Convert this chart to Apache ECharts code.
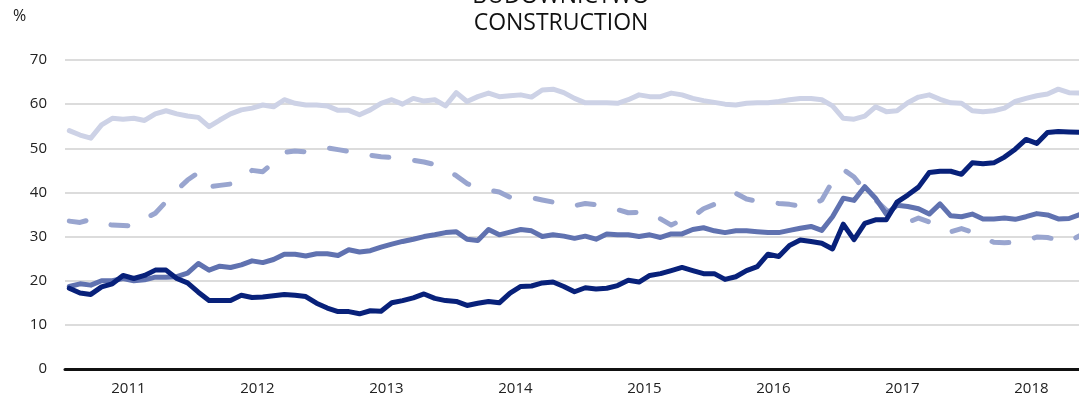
<!DOCTYPE html>
<html>
<head>
<meta charset="utf-8">
<script src="https://cdn.jsdelivr.net/npm/echarts@6/dist/echarts.min.js"></script>
<style>
html,body{margin:0;padding:0;background:#fff;}
#chart{width:1079px;height:402px;}
</style>
</head>
<body>
<div id="chart"></div>
<script>
// Monthly observations, Jan 2011 onward
var years = ['2011','2012','2013','2014','2015','2016','2017','2018'];
var yTicks = [0,10,20,30,40,50,60,70];

var seriesLight = [54.0,53.0,52.3,55.3,56.8,56.6,56.8,56.3,57.8,58.5,57.8,57.3,57.0,54.9,56.4,57.8,58.7,59.1,59.8,59.4,
61.0,60.2,59.8,59.8,59.6,58.6,58.6,57.6,58.7,60.2,61.0,60.0,61.3,60.7,61.0,59.6,62.6,60.6,61.7,62.5,
61.7,61.9,62.1,61.6,63.2,63.4,62.6,61.3,60.3,60.3,60.3,60.2,61.0,62.1,61.7,61.7,62.5,62.1,61.3,60.8,
60.4,60.0,59.8,60.2,60.3,60.3,60.6,61.0,61.3,61.3,61.0,59.6,56.8,56.6,57.3,59.4,58.3,58.5,60.3,61.6,
62.1,61.1,60.3,60.2,58.5,58.3,58.5,59.1,60.6,61.3,61.9,62.3,63.4,62.6,62.5];

var seriesDashed = [33.5,33.2,33.9,33.0,32.6,32.5,32.4,34.0,35.3,37.9,40.5,42.8,44.5,41.3,41.6,41.9,43.0,45.0,44.7,46.8,
49.1,49.4,49.2,49.6,50.1,49.7,49.3,48.8,48.4,48.1,47.9,47.7,47.3,46.9,46.3,45.2,43.8,42.0,41.0,40.5,
40.1,38.9,38.8,38.8,38.3,37.8,37.0,37.0,37.5,37.2,36.8,36.1,35.4,35.5,35.4,34.0,32.6,33.8,34.5,36.3,
37.3,38.3,39.8,38.5,38.0,37.8,37.5,37.3,36.9,37.1,38.3,42.5,45.2,43.5,40.5,38.3,36.0,34.6,33.2,34.2,
33.3,32.4,31.1,31.8,31.0,29.8,28.7,28.6,28.7,29.1,29.9,29.8,29.2,28.9,30.2];

var seriesMedium = [18.7,19.3,19.0,20.0,20.0,20.5,20.0,20.2,20.8,20.8,20.9,21.7,23.9,22.4,23.3,23.0,23.6,24.5,24.1,24.8,
26.0,26.0,25.6,26.1,26.1,25.7,27.0,26.5,26.8,27.6,28.3,28.9,29.4,30.0,30.4,30.9,31.1,29.4,29.1,31.6,
30.4,31.0,31.6,31.3,30.0,30.4,30.1,29.6,30.1,29.4,30.6,30.4,30.4,30.0,30.4,29.8,30.6,30.6,31.6,32.0,
31.3,30.9,31.3,31.3,31.1,30.9,30.9,31.4,31.9,32.3,31.4,34.5,38.7,38.2,41.3,38.7,35.1,37.1,36.8,36.3,
35.1,37.4,34.7,34.5,35.1,34.0,34.0,34.2,33.9,34.5,35.2,34.9,34.0,34.1,35.0];

var seriesDark = [18.3,17.2,16.9,18.6,19.3,21.2,20.5,21.2,22.4,22.4,20.5,19.5,17.4,15.5,15.5,15.5,16.7,16.2,16.3,16.6,
16.9,16.7,16.4,14.9,13.8,13.0,13.0,12.5,13.2,13.1,15.0,15.5,16.1,17.0,16.0,15.5,15.3,14.4,14.9,15.3,
15.0,17.2,18.7,18.8,19.5,19.7,18.7,17.5,18.4,18.1,18.3,18.9,20.1,19.7,21.2,21.6,22.3,23.0,22.3,21.6,
21.6,20.3,20.9,22.3,23.2,26.0,25.5,28.0,29.2,28.9,28.5,27.2,32.8,29.3,33.0,33.8,33.8,37.8,39.4,41.2,
44.5,44.8,44.8,44.1,46.7,46.5,46.7,48.0,49.8,52.0,51.1,53.6,53.8,53.7,53.6];

function toPoints(arr){ return arr.map(function(v,i){ return [i, v]; }); }

var FONT = '"Open Sans", "Noto Sans", sans-serif';
var chart = echarts.init(document.getElementById('chart'), null, {renderer:'canvas'});

var option = {
  animation: false,
  backgroundColor: '#ffffff',
  grid: { left: 65, right: 0, top: 60, bottom: 33, containLabel: false },
  graphic: [
    { type: 'text', left: 13, top: 8, style: { text: '%', font: '16px ' + FONT, fill: '#1a1a1a' } },
    { type: 'text', x: 561, y: -17, style: { text: 'BUDOWNICTWO\nCONSTRUCTION', font: '23px ' + FONT, fill: '#111111', textAlign: 'center', lineHeight: 27 } }
  ],
  xAxis: {
    type: 'value',
    min: -0.4,
    max: 93.93,
    splitLine: { show: false },
    axisTick: { show: false },
    axisLine: { show: true, onZero: false, lineStyle: { color: '#111111', width: 3 } },
    axisLabel: {
      customValues: years.map(function(y,i){ return i*12 + 5.5; }),
      formatter: function(v){ return years[Math.round((v - 5.5)/12)]; },
      fontFamily: FONT, fontSize: 15, color: '#222222', margin: 12
    }
  },
  yAxis: {
    type: 'value',
    min: yTicks[0],
    max: yTicks[yTicks.length-1],
    interval: 10,
    axisLine: { show: false },
    axisTick: { show: false },
    splitLine: { show: true, lineStyle: { color: '#dcdcdc', width: 2 } },
    axisLabel: { fontFamily: FONT, fontSize: 15, color: '#222222', margin: 18 }
  },
  series: [
    { name: 'light', type: 'line', data: toPoints(seriesLight), symbol: 'none', z: 1,
      lineStyle: { color: '#cdd2e6', width: 5, join: 'round', cap: 'round' } },
    { name: 'dashed', type: 'line', data: toPoints(seriesDashed), symbol: 'none', z: 2,
      lineStyle: { color: '#99a5cf', width: 5, type: [17, 26], join: 'round', cap: 'round' } },
    { name: 'medium', type: 'line', data: toPoints(seriesMedium), symbol: 'none', z: 3,
      lineStyle: { color: '#6072b0', width: 5, join: 'round', cap: 'round' } },
    { name: 'dark', type: 'line', data: toPoints(seriesDark), symbol: 'none', z: 4,
      lineStyle: { color: '#08217a', width: 5, join: 'round', cap: 'round' } }
  ]
};
chart.setOption(option);
</script>
</body>
</html>
